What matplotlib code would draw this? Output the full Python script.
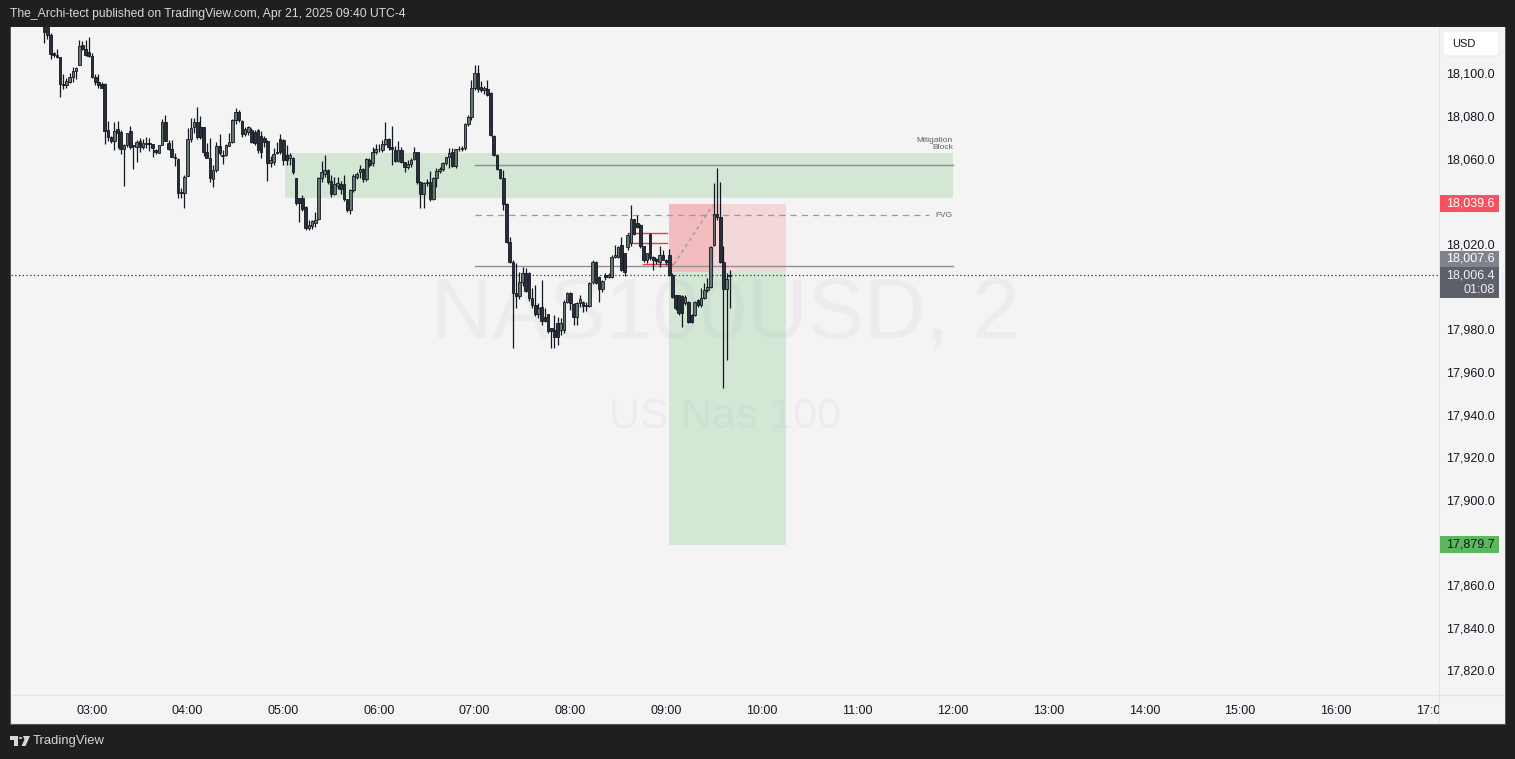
import matplotlib
matplotlib.use("Agg")
import matplotlib.pyplot as plt
from matplotlib.patches import Rectangle, Polygon, Circle, FancyBboxPatch

W, H, DPI = 1515, 759, 100
FONT = "Liberation Sans"

# ---------------- data ----------------
start_minute = 150      # first bar 02:30
bar_minutes = 2

opens = [
    18126, 18122.4, 18118.8, 18110.2, 18109.5, 18108.3, 18095.6, 18095.3, 18096.9, 18099.2,
    18101.9, 18104.7, 18113.9, 18112.0, 18110.6, 18108.9, 18099.2, 18096.9, 18095.6, 18095.8,
    18074.2, 18070.8, 18069.2, 18074.5, 18073.4, 18065.2, 18067.2, 18073.8, 18066.6, 18066.4,
    18069.2, 18066.4, 18067.7, 18068.0, 18067.5, 18064.8, 18063.6, 18067.2, 18077.8, 18068.0,
    18065.2, 18061.3, 18060.6, 18044.5, 18044.5,
    18052.6, 18070.0, 18075.8, 18077.8, 18075.5, 18075.5, 18063.7, 18061.2, 18051.2, 18055.4,
    18066.7, 18062.5, 18062.5, 18066.7, 18068.7, 18078.9, 18082.8, 18078.4, 18072.2, 18073.1,
    18074.2, 18073.1, 18074.2, 18071.5, 18070.3, 18069.0, 18058.6, 18059.4, 18063.6, 18069.8,
    18069.5, 18062.5, 18060.9, 18061.2, 18051.5, 18042.2, 18042.5, 18038.2, 18028.1, 18029.4,
    18030.5, 18032.5, 18051.5, 18053.4, 18055.4, 18050.3, 18044.0, 18047.8, 18048.7, 18048.7,
    18041.8, 18036.7, 18046.1, 18052.3, 18054.7,
    18055.9, 18051.2, 18060.1, 18058.6, 18063.7, 18065.1, 18064.8, 18067.5, 18069.8, 18066.4,
    18064.8, 18059.7, 18064.8, 18059.0, 18057.0, 18058.1, 18060.6, 18063.7, 18050.0, 18044.1,
    18049.5, 18050.0, 18041.9, 18051.9, 18055.0, 18055.9, 18058.6, 18061.3, 18063.7, 18057.3,
    18065.1, 18065.2, 18065.9, 18076.9, 18080.2, 18093.8, 18100.8, 18094.5, 18093.0, 18093.4,
    18091.4, 18071.5, 18062.5, 18055.9, 18051.5, 18039.4, 18021.5, 18012.5, 17997.6, 17996.5,
    18002.8, 18007.0, 18007.0, 17995.6, 17992.2, 17987.8, 17991.4, 17986.7, 17987.8, 17981.2,
    17980.4, 17983.5, 17980.4, 17980.4, 17993.7, 17997.6, 17992.6, 17986.7, 17992.9, 17993.7,
    17991.7, 17991.7, 18003.1, 18012.5, 18005.4, 17999.5, 18006.2, 18005.1, 18005.4, 18014.8,
    18014.8, 18020.3, 18016.4, 18019.2, 18021.1, 18032.3, 18030.4, 18029.6, 18019.8, 18013.2,
    18025.4, 18014.5, 18013.5, 18012.5, 18015.6, 18013.2, 18015.6, 18006.2, 17996.8, 17996.8,
    17996.4, 17992.9, 17993.7, 17987.5, 17987.5, 17994.5, 17992.1, 17995.6, 17999.2, 18000.4,
    18020.3, 18034.8, 18033.2, 18012.5, 17999.5, 18005.5,
]
highs = [
    18130, 18125, 18119.5, 18111, 18112, 18108.5, 18100.3, 18098.4, 18100.8, 18103.9,
    18103.9, 18116.4, 18116.1, 18116.4, 18117.7, 18110.5, 18100.5, 18100.5, 18096.9, 18096.4,
    18078.4, 18071.5, 18078.1, 18078.4, 18074.2, 18067.5, 18072.7, 18076.1, 18067.0, 18069.5,
    18070.3, 18069.9, 18070.8, 18070.3, 18067.5, 18065.5, 18067.2, 18079.4, 18081.0, 18069.5,
    18069.5, 18063.3, 18060.9, 18046.9, 18053.1,
    18075.3, 18079.7, 18079.7, 18085.1, 18080.9, 18075.8, 18068.3, 18070.3, 18057.8, 18068.7,
    18072.2, 18064.8, 18067.5, 18073.0, 18079.5, 18084.7, 18083.5, 18079.0, 18075.5, 18076.0,
    18075.0, 18074.0, 18074.5, 18073.7, 18071.5, 18069.5, 18062.0, 18065.6, 18068.7, 18072.2,
    18070.0, 18067.2, 18063.5, 18061.5, 18051.8, 18042.5, 18043.5, 18038.5, 18032.0, 18032.0,
    18035.9, 18052.0, 18059.7, 18062.5, 18056.0, 18053.1, 18052.0, 18052.3, 18050.5, 18053.1,
    18042.0, 18046.5, 18053.4, 18054.5, 18058.0,
    18056.2, 18060.9, 18061.0, 18066.0, 18067.5, 18067.5, 18069.5, 18078.1, 18070.3, 18076.1,
    18066.9, 18069.0, 18066.4, 18059.4, 18060.0, 18061.0, 18066.0, 18064.0, 18050.5, 18050.0,
    18051.0, 18055.0, 18052.3, 18056.3, 18057.0, 18059.4, 18061.7, 18065.6, 18065.6, 18065.5,
    18066.7, 18066.9, 18077.3, 18081.0, 18097.7, 18104.7, 18104.7, 18097.2, 18095.0, 18097.7,
    18091.9, 18072.0, 18062.8, 18056.0, 18055.4, 18039.8, 18024.2, 18013.0, 18011.7, 18007.8,
    18010.1, 18009.3, 18007.5, 17999.9, 18001.5, 17993.0, 18003.9, 17990.6, 17988.0, 17981.5,
    17987.5, 17986.7, 17986.0, 17994.5, 17998.4, 17998.4, 17993.0, 17993.7, 17996.8, 17994.0,
    17993.5, 18003.0, 18013.0, 18012.8, 18005.5, 18004.0, 18007.0, 18007.0, 18015.6, 18020.3,
    18019.8, 18024.2, 18016.5, 18025.8, 18039.0, 18032.5, 18034.3, 18030.0, 18020.0, 18016.5,
    18025.8, 18015.0, 18014.0, 18019.8, 18017.9, 18013.5, 18018.3, 18007.0, 17997.0, 17997.0,
    17996.6, 17996.8, 17994.0, 17988.0, 17994.0, 17995.0, 18000.0, 18002.3, 18004.6, 18019.8,
    18049.2, 18056.2, 18050.0, 18019.8, 18007.0, 18008.5,
]
lows = [
    18115, 18116.7, 18107.4, 18108.6, 18107.8, 18089.5, 18093.3, 18093.8, 18096.1, 18096.9,
    18098.0, 18104.7, 18111.7, 18109.0, 18108.5, 18098.5, 18095.3, 18094.1, 18093.8, 18067.5,
    18069.2, 18068.0, 18064.8, 18065.6, 18062.8, 18047.7, 18066.4, 18065.2, 18055.8, 18059.4,
    18064.0, 18065.2, 18065.6, 18064.4, 18061.4, 18063.0, 18063.3, 18067.2, 18068.8, 18065.0,
    18061.4, 18057.3, 18042.5, 18042.5, 18037.5,
    18052.6, 18068.7, 18073.0, 18070.0, 18070.0, 18062.0, 18060.9, 18050.0, 18047.6, 18054.7,
    18062.5, 18058.1, 18062.0, 18066.5, 18068.0, 18077.0, 18078.0, 18071.0, 18071.5, 18072.0,
    18068.0, 18067.0, 18063.5, 18061.2, 18066.0, 18050.5, 18057.0, 18058.0, 18062.8, 18063.0,
    18058.0, 18057.8, 18058.0, 18053.5, 18039.0, 18031.2, 18036.0, 18027.3, 18027.3, 18027.7,
    18028.9, 18032.0, 18050.0, 18052.0, 18049.0, 18043.0, 18043.5, 18046.3, 18044.0, 18041.0,
    18035.6, 18035.0, 18045.0, 18051.0, 18051.5,
    18050.0, 18050.5, 18057.0, 18057.5, 18063.0, 18064.0, 18064.0, 18067.0, 18065.0, 18057.8,
    18059.0, 18059.0, 18058.5, 18054.7, 18056.0, 18057.0, 18060.0, 18049.0, 18037.8, 18037.5,
    18048.0, 18041.0, 18041.5, 18047.6, 18054.0, 18055.0, 18058.0, 18056.3, 18057.0, 18056.5,
    18064.5, 18064.5, 18065.0, 18076.0, 18079.0, 18093.0, 18091.9, 18092.0, 18091.0, 18090.0,
    18071.5, 18062.0, 18055.5, 18051.0, 18036.7, 18021.0, 18012.0, 17971.8, 17990.6, 17995.0,
    18001.0, 17998.0, 17994.0, 17990.6, 17987.0, 17986.0, 17982.8, 17984.0, 17979.0, 17972.1,
    17971.8, 17973.4, 17978.0, 17979.0, 17992.9, 17989.8, 17982.8, 17982.8, 17991.4, 17989.0,
    17989.5, 17991.0, 18002.0, 18002.0, 17993.7, 17998.0, 18004.0, 18004.6, 18005.0, 18014.0,
    18014.0, 18008.0, 18005.8, 18018.0, 18020.0, 18025.0, 18028.0, 18019.0, 18012.5, 18012.0,
    18013.0, 18008.6, 18011.5, 18010.1, 18013.0, 18011.0, 18005.8, 17995.5, 17990.0, 17987.6,
    17982.0, 17992.0, 17983.8, 17983.5, 17987.0, 17991.0, 17991.4, 17995.0, 17998.0, 17999.9,
    18019.8, 18032.0, 18012.0, 17953.1, 17966.4, 17990.6,
]
closes = [
    18120, 18118.8, 18109.9, 18109.6, 18108.6, 18095.6, 18095.3, 18097.2, 18099.2, 18102.0,
    18103.1, 18113.6, 18112.0, 18109.4, 18108.9, 18098.9, 18096.9, 18095.3, 18093.8, 18073.8,
    18070.8, 18069.2, 18073.9, 18073.0, 18065.2, 18067.2, 18072.7, 18066.4, 18066.8, 18068.7,
    18066.1, 18068.0, 18067.9, 18067.8, 18065.6, 18063.7, 18067.2, 18077.8, 18068.8, 18065.2,
    18061.4, 18061.2, 18044.8, 18044.6, 18052.3,
    18070.0, 18075.3, 18077.8, 18070.8, 18071.1, 18063.7, 18061.2, 18051.5, 18055.4, 18066.7,
    18063.3, 18062.1, 18067.2, 18068.7, 18078.9, 18082.8, 18078.9, 18072.2, 18074.7, 18075.4,
    18068.7, 18068.0, 18064.8, 18064.0, 18068.7, 18058.6, 18060.1, 18062.8, 18063.4, 18064.0,
    18060.1, 18060.1, 18062.5, 18054.4, 18039.8, 18039.8, 18037.2, 18028.1, 18029.7, 18031.5,
    18032.0, 18051.5, 18054.7, 18055.4, 18050.0, 18044.0, 18048.7, 18049.5, 18046.4, 18041.8,
    18036.7, 18046.1, 18052.8, 18053.4, 18055.9,
    18051.2, 18060.6, 18057.8, 18063.7, 18065.1, 18065.2, 18067.5, 18069.8, 18066.4, 18065.3,
    18059.7, 18064.8, 18059.4, 18057.0, 18058.1, 18060.1, 18063.7, 18050.0, 18044.1, 18049.5,
    18049.4, 18041.9, 18051.9, 18055.0, 18055.9, 18058.6, 18061.3, 18063.6, 18057.3, 18065.1,
    18065.2, 18065.9, 18076.9, 18080.2, 18093.8, 18100.8, 18093.4, 18093.0, 18093.8, 18090.6,
    18071.9, 18062.5, 18055.9, 18051.5, 18039.4, 18021.5, 18012.5, 17997.6, 17996.5, 18002.8,
    18007.0, 17998.7, 17995.6, 17992.2, 17987.8, 17990.9, 17984.8, 17984.8, 17980.0, 17980.0,
    17977.3, 17977.3, 17983.5, 17993.7, 17997.6, 17993.2, 17986.4, 17992.9, 17994.8, 17991.7,
    17991.9, 18002.6, 18012.5, 18002.6, 17999.5, 18003.5, 18005.1, 18006.2, 18014.8, 18015.6,
    18019.2, 18008.6, 18007.8, 18024.9, 18032.3, 18025.4, 18028.9, 18019.8, 18013.2, 18016.4,
    18014.0, 18013.2, 18012.9, 18015.6, 18013.2, 18012.5, 18006.2, 17996.1, 17990.6, 17988.2,
    17988.2, 17996.0, 17984.3, 17984.3, 17993.7, 17992.1, 17995.3, 17999.2, 18000.4, 18019.2,
    18034.8, 18033.2, 18012.5, 17999.5, 18004.2, 18006.4,
]

time_tick_labels = ["03:00", "04:00", "05:00", "06:00", "07:00", "08:00", "09:00", "10:00",
                    "11:00", "12:00", "13:00", "14:00", "15:00", "16:00", "17:00"]
time_tick_minutes = [180 + 60 * i for i in range(len(time_tick_labels))]
price_ticks = [18100, 18080, 18060, 18040, 18020, 18000, 17980, 17960, 17940,
               17920, 17900, 17880, 17860, 17840, 17820]

# drawings (minutes since midnight, price)
mitigation_zone = (301, 720, 18042.3, 18063.4)
mitigation_line = 18057.8
fvg_level = 18034.3
fvg_end = 705
level_line = 18010.4
levels_start = 420
levels_end = 720
current_price = 18006.4
entry_price, stop_price, target_price = 18007.6, 18039.6, 17879.7
pos_start, pos_now, pos_end = 542, 570.4, 615
red_lines = [(18025.8, 516, 540.5), (18021.1, 519, 540.5), (18011.2, 525.7, 544)]
trade_path_t = [545, 569.3]
trade_path_p = [18011.2, 18039.0]

xlim = (129.2, 1024.8)
ylim = (17809.2, 18122.5)

# ---------------- figure ----------------
fig = plt.figure(figsize=(W / DPI, H / DPI), dpi=DPI, facecolor="#1f1f1f")

def fr(x, y, w, h):
    return [x / W, 1 - (y + h) / H, w / W, h / H]

# chart panel (behind axes)
fig.patches.append(Rectangle((10 / W, 1 - 724 / H), 1495 / W, 697 / H, transform=fig.transFigure,
                             fc="#f4f4f4", ec="#555555", lw=0.8, zorder=-5))

ax = fig.add_axes(fr(11, 27, 1428, 668))
ax.set_facecolor("#f4f4f4")
ax.set_xlim(*xlim)
ax.set_ylim(*ylim)
for s in ["top", "left", "right"]:
    ax.spines[s].set_visible(False)
ax.spines["bottom"].set_color("#e0e3eb")
ax.set_yticks([])
ax.set_xticks(time_tick_minutes)
ax.set_xticklabels(time_tick_labels, fontsize=9, family=FONT, color="#131722")
ax.tick_params(axis="x", length=0, pad=7.5)

# watermark
ax.text(0.5, 0.567, "NAS100USD, 2", transform=ax.transAxes, ha="center", va="center",
        fontsize=61, family=FONT, color="#ececef", zorder=0.5)
ax.text(0.5, 0.416, "US Nas 100", transform=ax.transAxes, ha="center", va="center",
        fontsize=31, family=FONT, color="#ececef", zorder=0.5)

# mitigation block
t0, t1, p0, p1 = mitigation_zone
ax.add_patch(Rectangle((t0, p0), t1 - t0, p1 - p0, fc="#4caf50", alpha=0.19, ec="none", zorder=1))
ax.plot([levels_start, levels_end], [mitigation_line] * 2, color="#8f8f8f", lw=1.0, zorder=2)
ax.plot([levels_start, fvg_end], [fvg_level] * 2, color="#9a9a9a", lw=0.9,
        linestyle=(0, (5, 4)), zorder=2)
ax.plot([levels_start, levels_end], [level_line] * 2, color="#8f8f8f", lw=1.0, zorder=2)
ax.text(t1, p1 + 0.9, "Mitigation\nBlock", ha="right", va="bottom", fontsize=6, family=FONT,
        color="#5d606b", linespacing=1.0, zorder=5)
ax.text(fvg_end + 4, fvg_level, "FVG", ha="left", va="center", fontsize=6, family=FONT,
        color="#5d606b", zorder=5)

# position tool (short)
ax.add_patch(Rectangle((pos_start, entry_price), pos_end - pos_start, stop_price - entry_price,
                       fc="#f23645", alpha=0.15, ec="none", zorder=1))
ax.add_patch(Rectangle((pos_start, entry_price), pos_now - pos_start, stop_price - entry_price,
                       fc="#f23645", alpha=0.17, ec="none", zorder=1))
ax.add_patch(Rectangle((pos_start, target_price), pos_end - pos_start, entry_price - target_price,
                       fc="#4caf50", alpha=0.19, ec="none", zorder=1))
ax.plot(trade_path_t, trade_path_p, color="#9598a1", lw=1.0, linestyle=(0, (2.5, 2.5)), zorder=2)

for p, a, b in red_lines:
    ax.plot([a, b], [p, p], color="#f23645", lw=1.0, zorder=2)

# current price line
ax.axhline(current_price, color="#2a2e39", lw=0.9, linestyle=(0, (1, 2)), zorder=2)

# candles
times = [start_minute + bar_minutes * i for i in range(len(opens))]
ax.vlines(times, lows, highs, color="#131722", lw=0.9, zorder=3)
bottoms = [min(o, c) for o, c in zip(opens, closes)]
heights = [max(abs(c - o), 0.4) for o, c in zip(opens, closes)]
colors = ["#66776c" if c >= o else "#2a2e39" for o, c in zip(opens, closes)]
ax.bar(times, heights, width=1.65, bottom=bottoms, color=colors, edgecolor="#131722",
       linewidth=0.6, zorder=4)

# ---------------- price scale ----------------
ppu = 668 / (ylim[1] - ylim[0])
ax2 = fig.add_axes(fr(1439, 27, 66, 696))
ax2.set_facecolor("#f4f4f4")
ax2.set_xlim(0, 1)
ax2.set_ylim(ylim[1] - 696 / ppu, ylim[1])
ax2.set_xticks([])
ax2.set_yticks([])
for s in ["top", "right", "bottom"]:
    ax2.spines[s].set_visible(False)
ax2.spines["left"].set_color("#e0e3eb")
ax2.axhline(ylim[0], color="#e0e3eb", lw=1.0)

# axis tags: (value, text, face, text colour, box-centre offset px, height px)
tags = [
    (stop_price, f"{stop_price:,.1f}", "#f7525f", "white", 0.0, 17),
    (entry_price, f"{entry_price:,.1f}", "#80838e", "white", 13.0, 16),
    (current_price, f"{current_price:,.1f}\n01:08", "#5d606b", "#f0f0f0", -8.0, 31),
    (target_price, f"{target_price:,.1f}", "#5cb85c", "#131722", 0.0, 17),
]
tag_spans = []
for value, text, fc, tc, off, hpx in tags:
    yc = value + off / ppu
    h = hpx / ppu
    tag_spans.append((yc - h / 2, yc + h / 2))
    ax2.add_patch(Rectangle((0.015, yc - h / 2), 0.9, h, fc=fc, ec="none", zorder=3))
    ax2.text(0.848, yc, text, ha="right", va="center", fontsize=9, family=FONT,
             color=tc, zorder=4, linespacing=1.25)

# price tick labels (those hidden under a tag are skipped, as in the screenshot)
for p in price_ticks:
    if any(lo - 3 / ppu < p < hi + 3 / ppu for lo, hi in tag_spans):
        continue
    ax2.text(0.848, p, f"{p:,.1f}", ha="right", va="center", fontsize=9, family=FONT,
             color="#131722", zorder=2)

# USD box (pixel rows 31..56 of the screenshot)
ax2.add_patch(FancyBboxPatch((0.06, ylim[1] - 29 / ppu), 0.85, 25 / ppu,
                             boxstyle="round,pad=0,rounding_size=0.05", fc="white",
                             ec="#e8e8e8", lw=0.6, zorder=3, mutation_aspect=66 / ppu))
ax2.text(0.2, ylim[1] - 17 / ppu, "USD", ha="left", va="center", fontsize=8, family=FONT,
         color="#131722", zorder=4)

# ---------------- header / footer ----------------
fig.text(10 / W, 1 - 14 / H, "The_Archi-tect published on TradingView.com, Apr 21, 2025 09:40 UTC-4",
         ha="left", va="center", fontsize=8.7, family=FONT, color="#d8d8d8")

# TradingView logo
logo_col = "#d8d8d8"
fig.patches.append(Polygon([(10 / W, 1 - 736 / H), (18 / W, 1 - 736 / H), (18 / W, 1 - 746 / H),
                            (14.5 / W, 1 - 746 / H), (14.5 / W, 1 - 739.5 / H), (10 / W, 1 - 739.5 / H)],
                           closed=True, transform=fig.transFigure, fc=logo_col, ec="none"))
fig.patches.append(Circle((20.5 / W, 1 - 738 / H), 1.8 / W, transform=fig.transFigure,
                          fc=logo_col, ec="none"))
fig.patches.append(Polygon([(23 / W, 1 - 736 / H), (30 / W, 1 - 736 / H), (25.5 / W, 1 - 746 / H),
                            (21.5 / W, 1 - 746 / H), (24.5 / W, 1 - 739.5 / H)],
                           closed=True, transform=fig.transFigure, fc=logo_col, ec="none"))
fig.text(33 / W, 1 - 741 / H, "TradingView", ha="left", va="center", fontsize=9.4,
         family=FONT, color="#d8d8d8")

fig.savefig("out.png", dpi=DPI, facecolor=fig.get_facecolor())
